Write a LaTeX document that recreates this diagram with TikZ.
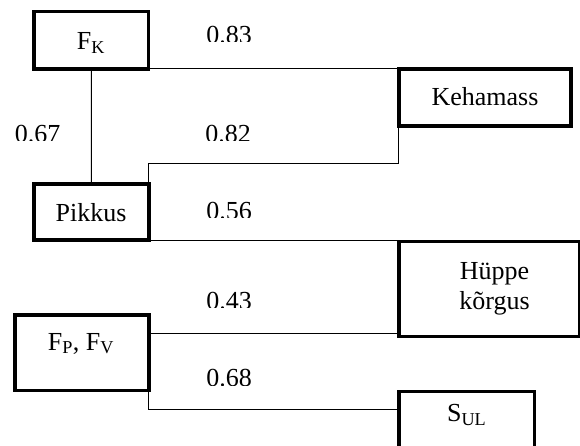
\documentclass[tikz,border=0pt]{standalone}
\usepackage{fontspec}
\setmainfont{Liberation Serif}
\tikzset{
  txt/.style={font=\fontsize{26}{30}\selectfont, inner sep=0pt, outer sep=0pt},
  frame/.style={draw, line width=3.6pt, rectangle, inner sep=0pt, outer sep=0pt},
  conn/.style={line width=1pt},
  val/.style={txt, anchor=base},
}
\begin{document}
\begin{tikzpicture}[x=1pt,y=-1pt]
\useasboundingbox (0,0) rectangle (580,446);
\clip (0,0) rectangle (580,446);

% boxes
\node[frame, minimum width=114.5pt, minimum height=57.5pt] (fk)  at (91.25,40.25) {};
\node[frame, minimum width=114.7pt, minimum height=56pt]   (pik) at (91.35,212) {};
\node[frame, minimum width=172pt,   minimum height=57pt]   (keh) at (484.7,97.5) {};
\node[frame, minimum width=180.6pt, minimum height=94.8pt] (hup) at (489,288.9) {};
\node[frame, minimum width=134pt,   minimum height=75.6pt] (fp)  at (81.7,352.5) {};
\node[frame, minimum width=135.6pt, minimum height=78.7pt] (sul) at (466.5,430.65) {};

% box texts
\node[val] (fkt)  at (91,50)      {F\textsubscript{K}};
\node[val] (pikt) at (91,221.5)   {Pikkus};
\node[val] (keht) at (485,105.7)  {Kehamass};
\node[txt, align=center] (hupt) at (494.5,288.3) {Hüppe\\kõrgus};
\node[val] (fpt)  at (81,350)     {F\textsubscript{P}, F\textsubscript{V}};
\node[val] (sult) at (466.7,421.7) {S\textsubscript{UL}};

% helper levels
\coordinate (l82) at (0,164);
\coordinate (l43) at (0,333);
\coordinate (l68) at (0,409.3);

% connectors
\draw[conn] (fk.south) -- (pik.north);
\draw[conn] (fk.south east) -- (fk.south east -| keh.west);
\draw[conn] (pik.north east) -- (pik.north east |- l82) -| (keh.south west);
\draw[conn] (pik.south east) -- (pik.south east -| hup.west);
\draw[conn] (fp.east |- l43) -- (hup.west |- l43);
\draw[conn] (fp.south east) |- (sul.west |- l68);

% coefficient labels (bottoms clipped as in the reference)
\begin{scope}\clip (180,15) rectangle (280,41.8);
\node[val] (v83) at (229,43.6) {0.83};\end{scope}
\begin{scope}\clip (0,110) rectangle (80,140.5);
\node[val] (v67) at (37.5,142.3) {0.67};\end{scope}
\begin{scope}\clip (180,110) rectangle (280,140.7);
\node[val] (v82) at (228,142.5) {0.82};\end{scope}
\begin{scope}\clip (180,190) rectangle (280,217.6);
\node[val] (v56) at (229,219.3) {0.56};\end{scope}
\begin{scope}\clip (180,280) rectangle (280,307.8);
\node[val] (v43) at (229,309.6) {0.43};\end{scope}
\begin{scope}\clip (180,355) rectangle (280,385.1);
\node[val] (v68) at (229,386.9) {0.68};\end{scope}
\end{tikzpicture}
\end{document}
